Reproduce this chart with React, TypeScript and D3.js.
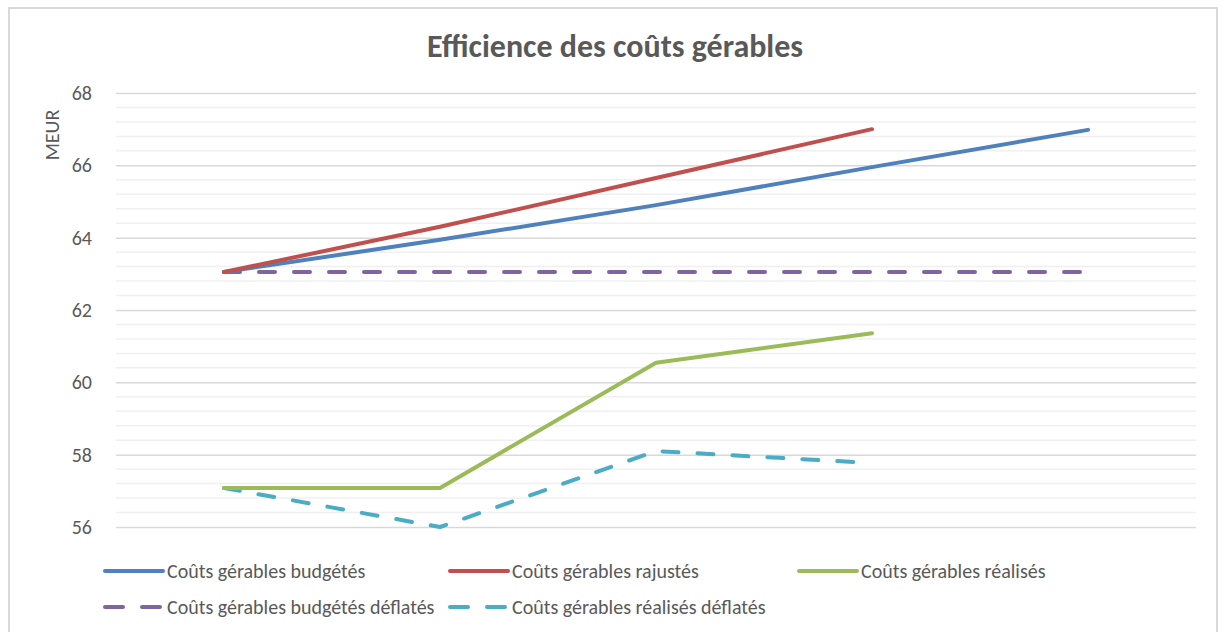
import React, { useEffect, useRef } from 'react';
import * as d3 from 'd3';

const categories = ['P1', 'P2', 'P3', 'P4', 'P5'];

const budgetes = [63.05, 63.94, 64.9, 65.95, 66.98];
const rajustes = [63.05, 64.3, 65.65, 67.0];
const realises = [57.08, 57.08, 60.54, 61.36];
const budgetesDeflates = [63.05, 63.05, 63.05, 63.05, 63.05];
const realisesDeflates = [57.08, 56.0, 58.1, 57.77];

const yTicks = [56, 58, 60, 62, 64, 66, 68];

interface Serie {
    name: string;
    values: number[];
    color: string;
    dashed: boolean;
}

const series: Serie[] = [
    { name: 'Coûts gérables budgétés', values: budgetes, color: '#4f81bd', dashed: false },
    { name: 'Coûts gérables rajustés', values: rajustes, color: '#c0504d', dashed: false },
    { name: 'Coûts gérables réalisés', values: realises, color: '#9bbb59', dashed: false },
    { name: 'Coûts gérables budgétés déflatés', values: budgetesDeflates, color: '#8064a2', dashed: true },
    { name: 'Coûts gérables réalisés déflatés', values: realisesDeflates, color: '#4bacc6', dashed: true },
];

const font = 'Calibri, Carlito, "Open Sans", sans-serif';

const App: React.FC = () => {
    const svgRef = useRef<SVGSVGElement | null>(null);

    useEffect(() => {
        if (!svgRef.current) return;
        const svg = d3.select(svgRef.current);
        svg.selectAll('*').remove();

        const width = 1222;
        const height = 632;
        const margin = { left: 116, right: 26, top: 93, bottom: 105 };

        svg.append('rect')
            .attr('x', 9).attr('y', 8)
            .attr('width', 1208).attr('height', 660)
            .attr('fill', '#fff')
            .attr('stroke', '#d9d9d9')
            .attr('stroke-width', 2);

        const x = d3.scaleBand<string>()
            .domain(categories)
            .range([margin.left, width - margin.right]);

        const y = d3.scaleLinear()
            .domain([56, 68])
            .range([height - margin.bottom, margin.top]);

        // minor grid
        const minor = d3.range(56, 68.001, 0.4).filter((v) => !yTicks.some((t) => Math.abs(t - v) < 0.01));
        svg.append('g')
            .selectAll('line')
            .data(minor)
            .enter()
            .append('line')
            .attr('x1', margin.left)
            .attr('x2', width - margin.right)
            .attr('y1', (d) => y(d))
            .attr('y2', (d) => y(d))
            .attr('stroke', '#f0f0f0')
            .attr('stroke-width', 1.5);

        // major grid + labels
        svg.append('g')
            .attr('transform', `translate(${margin.left},0)`)
            .call(
                d3.axisLeft(y)
                    .tickValues(yTicks)
                    .tickSize(-(width - margin.left - margin.right))
                    .tickPadding(24)
            )
            .call((g) => g.select('.domain').remove())
            .call((g) => g.selectAll('.tick line').attr('stroke', '#d9d9d9').attr('stroke-width', 1.5))
            .call((g) => g.selectAll('.tick text')
                .attr('fill', '#595959')
                .attr('font-size', 20)
                .attr('font-family', font));

        svg.append('text')
            .attr('transform', `translate(59,135) rotate(-90)`)
            .attr('text-anchor', 'middle')
            .attr('fill', '#595959')
            .attr('font-size', 20)
            .attr('font-family', font)
            .text('MEUR');

        svg.append('text')
            .attr('x', 615)
            .attr('y', 57)
            .attr('text-anchor', 'middle')
            .attr('fill', '#595959')
            .attr('font-size', 32)
            .attr('font-weight', 'bold')
            .attr('font-family', font)
            .text('Efficience des coûts gérables');

        const cx = (i: number) => (x(categories[i]) as number) + x.bandwidth() / 2;

        const line = d3.line<number>()
            .x((_, i) => cx(i))
            .y((d) => y(d));

        // draw order: dashed first, then solid
        const order = [3, 4, 0, 1, 2];
        order.forEach((k) => {
            const s = series[k];
            svg.append('path')
                .datum(s.values)
                .attr('fill', 'none')
                .attr('stroke', s.color)
                .attr('stroke-width', 4)
                .attr('stroke-linecap', 'round')
                .attr('stroke-linejoin', 'round')
                .attr('stroke-dasharray', s.dashed ? '16,19' : null)
                .attr('d', line);
        });

        // legend
        const legendPos = [
            { x: 103, y: 571 },
            { x: 448, y: 571 },
            { x: 797, y: 571 },
            { x: 103, y: 607 },
            { x: 448, y: 607 },
        ];
        series.forEach((s, i) => {
            const p = legendPos[i];
            const g = svg.append('g').attr('transform', `translate(${p.x},${p.y})`);
            g.append('line')
                .attr('x1', 2).attr('x2', 60)
                .attr('y1', 0).attr('y2', 0)
                .attr('stroke', s.color)
                .attr('stroke-width', 4)
                .attr('stroke-linecap', 'round')
                .attr('stroke-dasharray', s.dashed ? '18,19' : null);
            g.append('text')
                .attr('x', 64)
                .attr('y', 6.5)
                .attr('fill', '#595959')
                .attr('font-size', 20)
                .attr('font-family', font)
                .text(s.name);
        });
    }, []);

    return (
        <svg
            ref={svgRef}
            width={1222}
            height={632}
            style={{ position: 'absolute', left: 0, top: 0 }}
        />
    );
};

export default App;
